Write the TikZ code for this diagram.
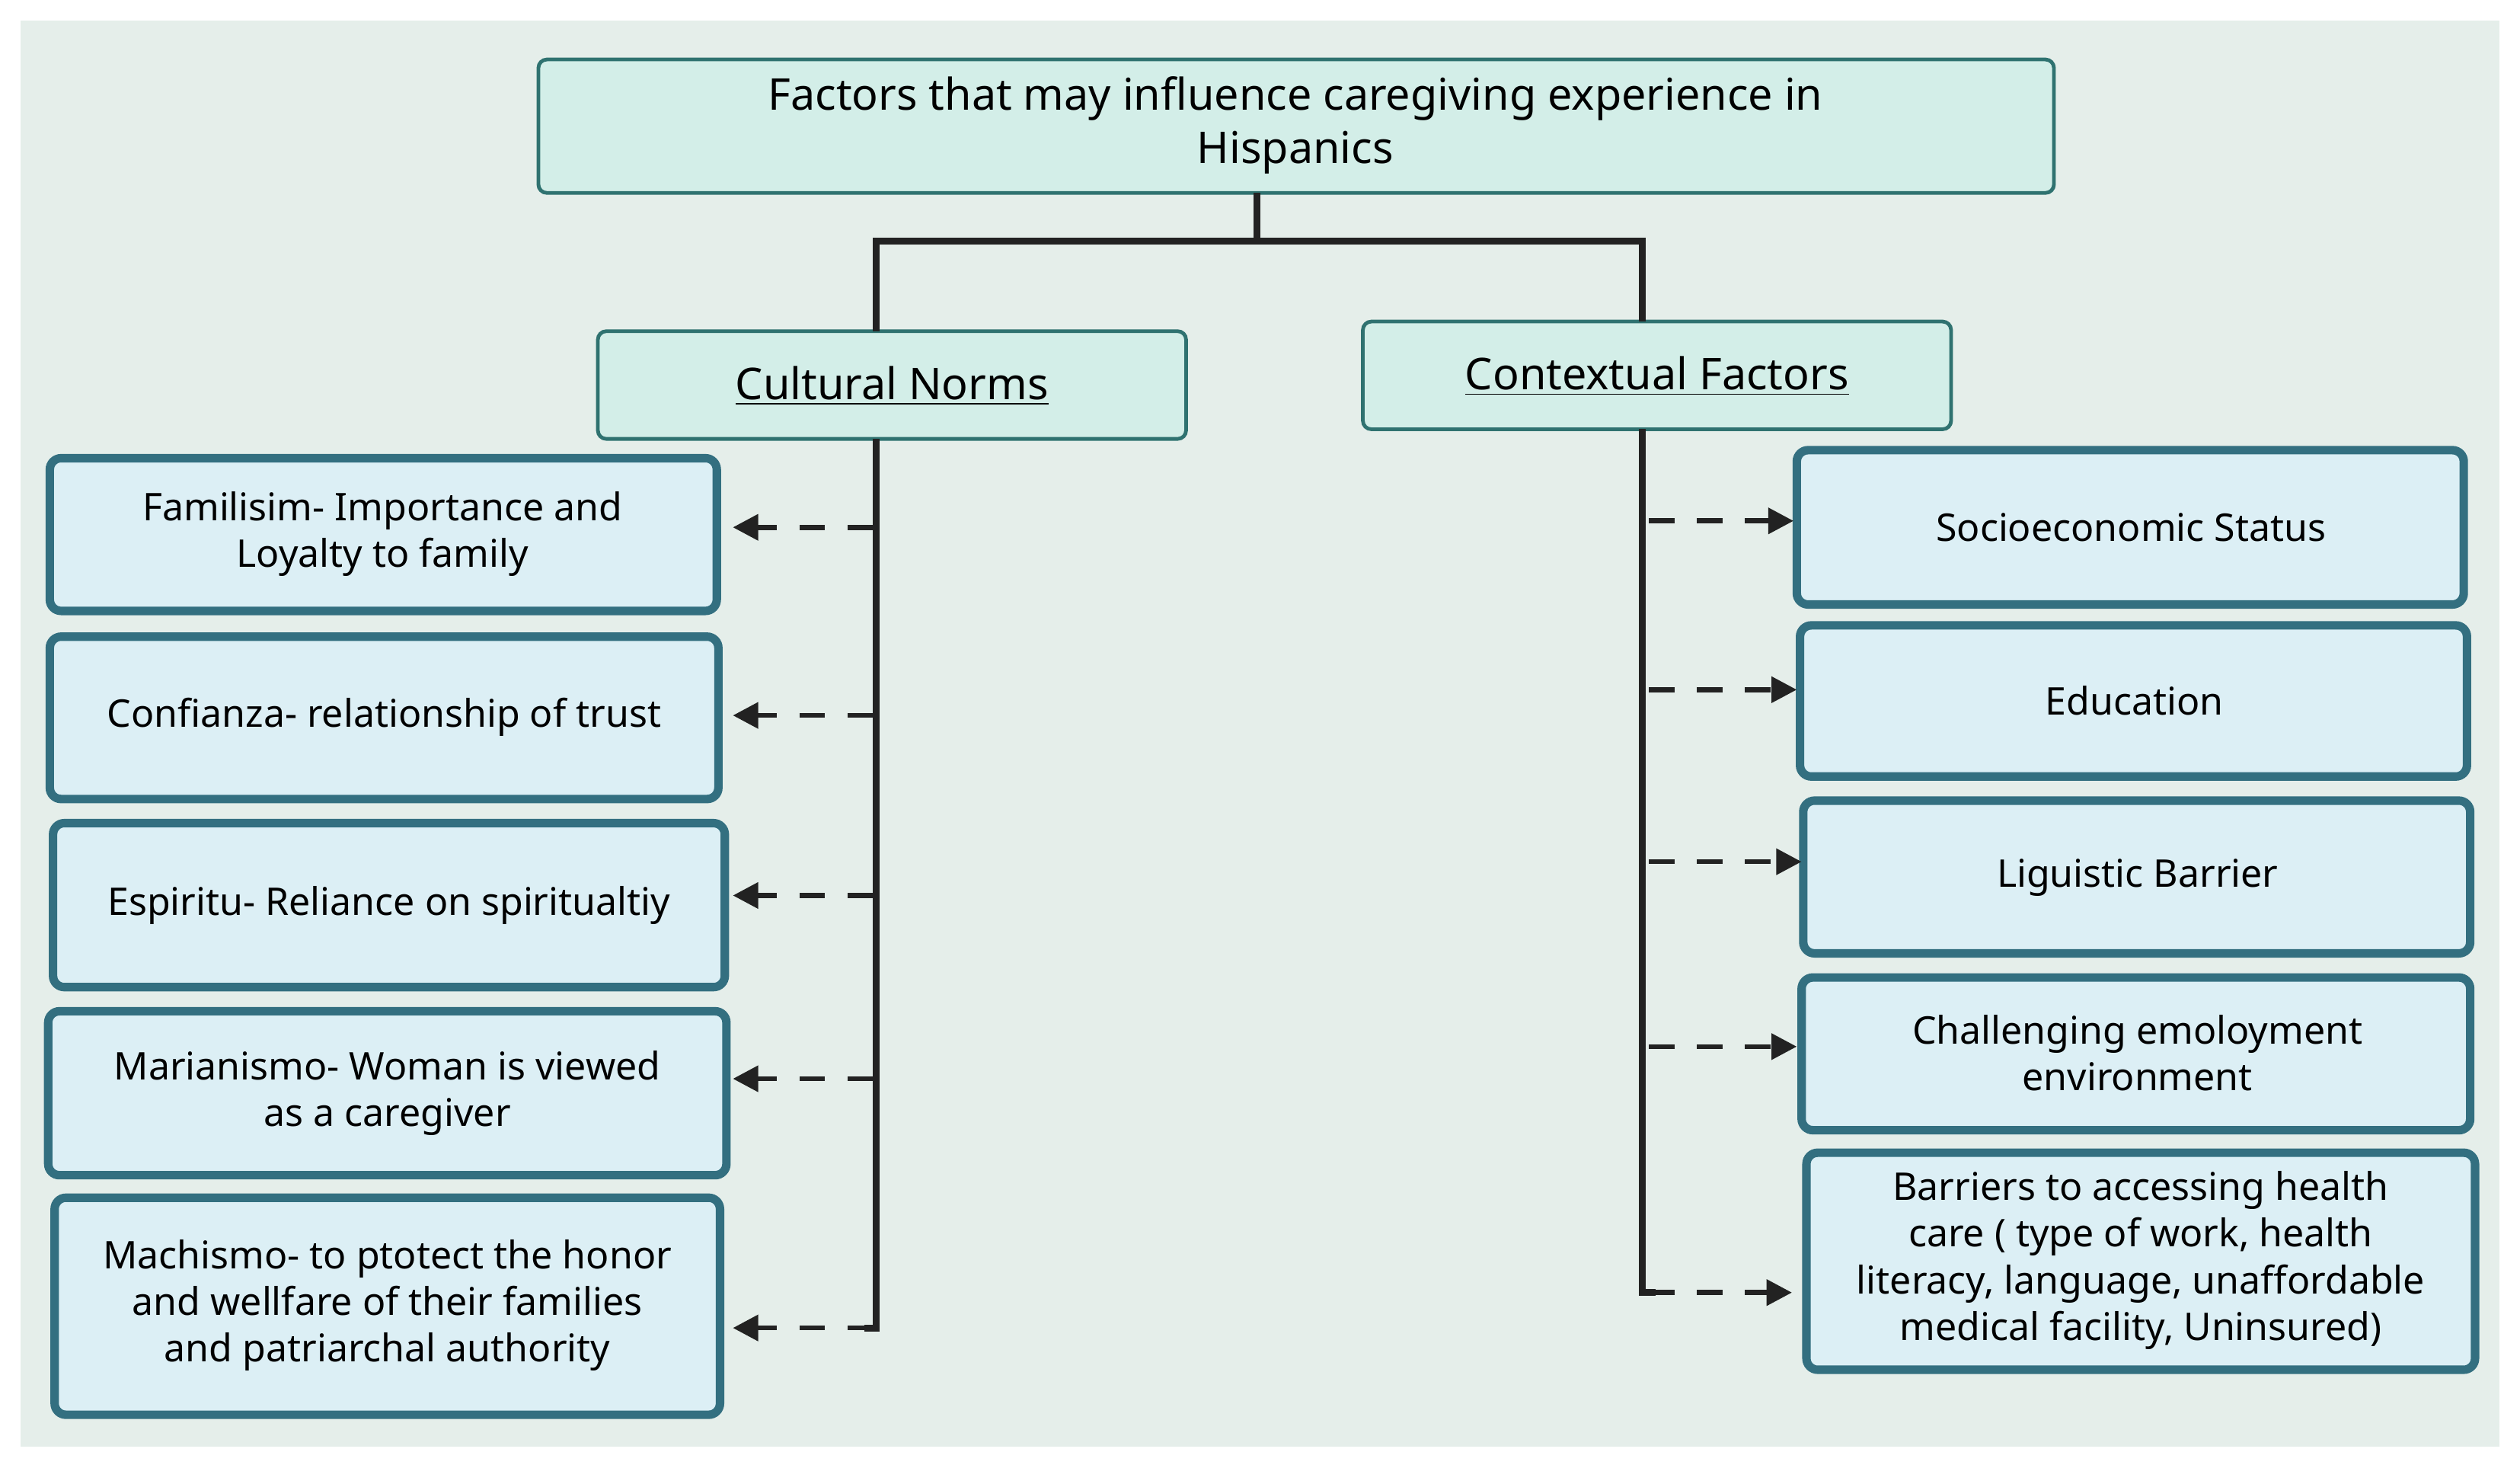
\documentclass[tikz,border=0pt]{standalone}
\usepackage{fontspec}
\setmainfont{Noto Sans}
\usetikzlibrary{arrows.meta}
\definecolor{bg}{HTML}{E5EEEA}
\definecolor{hdfill}{HTML}{D3EEE8}
\definecolor{hdline}{HTML}{2F7270}
\definecolor{bxfill}{HTML}{DCEFF5}
\definecolor{bxline}{HTML}{336F80}
\definecolor{ln}{HTML}{222222}
\begin{document}
\begin{tikzpicture}[x=0.02cm,y=-0.02cm,
 hd/.style={draw=hdline,fill=hdfill,line width=1.3pt,rounded corners=3pt},
 bx/.style={draw=bxline,fill=bxfill,line width=3pt,rounded corners=4pt},
 txt/.style={align=center,font=\fontsize{13.5}{16.5}\selectfont,text=black},
 tree/.style={draw=ln,line width=2.4pt},
 da/.style={draw=ln,line width=1.8pt,dash pattern=on 9pt off 8pt,-{Triangle[length=9pt,width=9pt]}}]
\useasboundingbox (0,0) rectangle (1568,913);
\fill[white] (0,0) rectangle (1568,913);
\fill[bg] (13,13) rectangle (1555,900);
% headers
\draw[hd] (335,37) rectangle (1278,120);
\node[txt,font=\bfseries\fontsize{15.5}{19}\selectfont] (title) at (806,78) {Factors that may influence caregiving experience in\\Hispanics};
\coordinate (tb) at (782,120);
\draw[hd] (372,206) rectangle (738,273);
\node[txt,font=\bfseries\fontsize{15.5}{19}\selectfont] (cn) at (555,240) {\underline{Cultural Norms}};
\draw[hd] (848,200) rectangle (1214,267);
\node[txt,font=\bfseries\fontsize{15.5}{19}\selectfont] (cf) at (1031,234) {\underline{Contextual Factors}};
% left boxes
\draw[bx] (31,285) rectangle (446,380);
\node[txt] (l1) at (238,332) {Familisim- Importance and\\Loyalty to family};
\draw[bx] (31,396) rectangle (447,497);
\node[txt] (l2) at (239,446) {Confianza- relationship of trust};
\draw[bx] (33,512) rectangle (451,614);
\node[txt] (l3) at (242,563) {Espiritu- Reliance on spiritualtiy};
\draw[bx] (30,629) rectangle (452,731);
\node[txt] (l4) at (241,680) {Marianismo- Woman is viewed\\as a caregiver};
\draw[bx] (34,745) rectangle (448,880);
\node[txt] (l5) at (241,812) {Machismo- to ptotect the honor\\and wellfare of their families\\and patriarchal authority};
% right boxes
\draw[bx] (1118,280) rectangle (1533,376);
\node[txt] (r1) at (1326,328) {Socioeconomic Status};
\draw[bx] (1120,389) rectangle (1535,483);
\node[txt] (r2) at (1328,436) {Education};
\draw[bx] (1122,498) rectangle (1537,593);
\node[txt] (r3) at (1330,546) {Liguistic Barrier};
\draw[bx] (1121,608) rectangle (1537,703);
\node[txt] (r4) at (1330,655) {Challenging emoloyment\\environment};
\draw[bx] (1124,717) rectangle (1540,852);
\node[txt] (r5) at (1332,784) {Barriers to accessing health\\care ( type of work, health\\literacy, language, unaffordable\\medical facility, Uninsured)};
% tree
\draw[tree] (tb) -- (782,150);
\draw[tree] (545,206) -- (545,150) -- (1022,150) -- (1022,200);
\draw[tree] (545,273) -- (545,826) -- (538,826);
\draw[tree] (1022,267) -- (1022,804) -- (1030,804);
% left arrows
\foreach \y/\n in {328/l1,445/l2,557/l3,671/l4,826/l5}
  \draw[da] (543,\y) -- (456,\y);
\foreach \y/\e in {324/1116,429/1118,536/1121,651/1118,804/1115}
  \draw[da] (1026,\y) -- (\e,\y);
\end{tikzpicture}
\end{document}
